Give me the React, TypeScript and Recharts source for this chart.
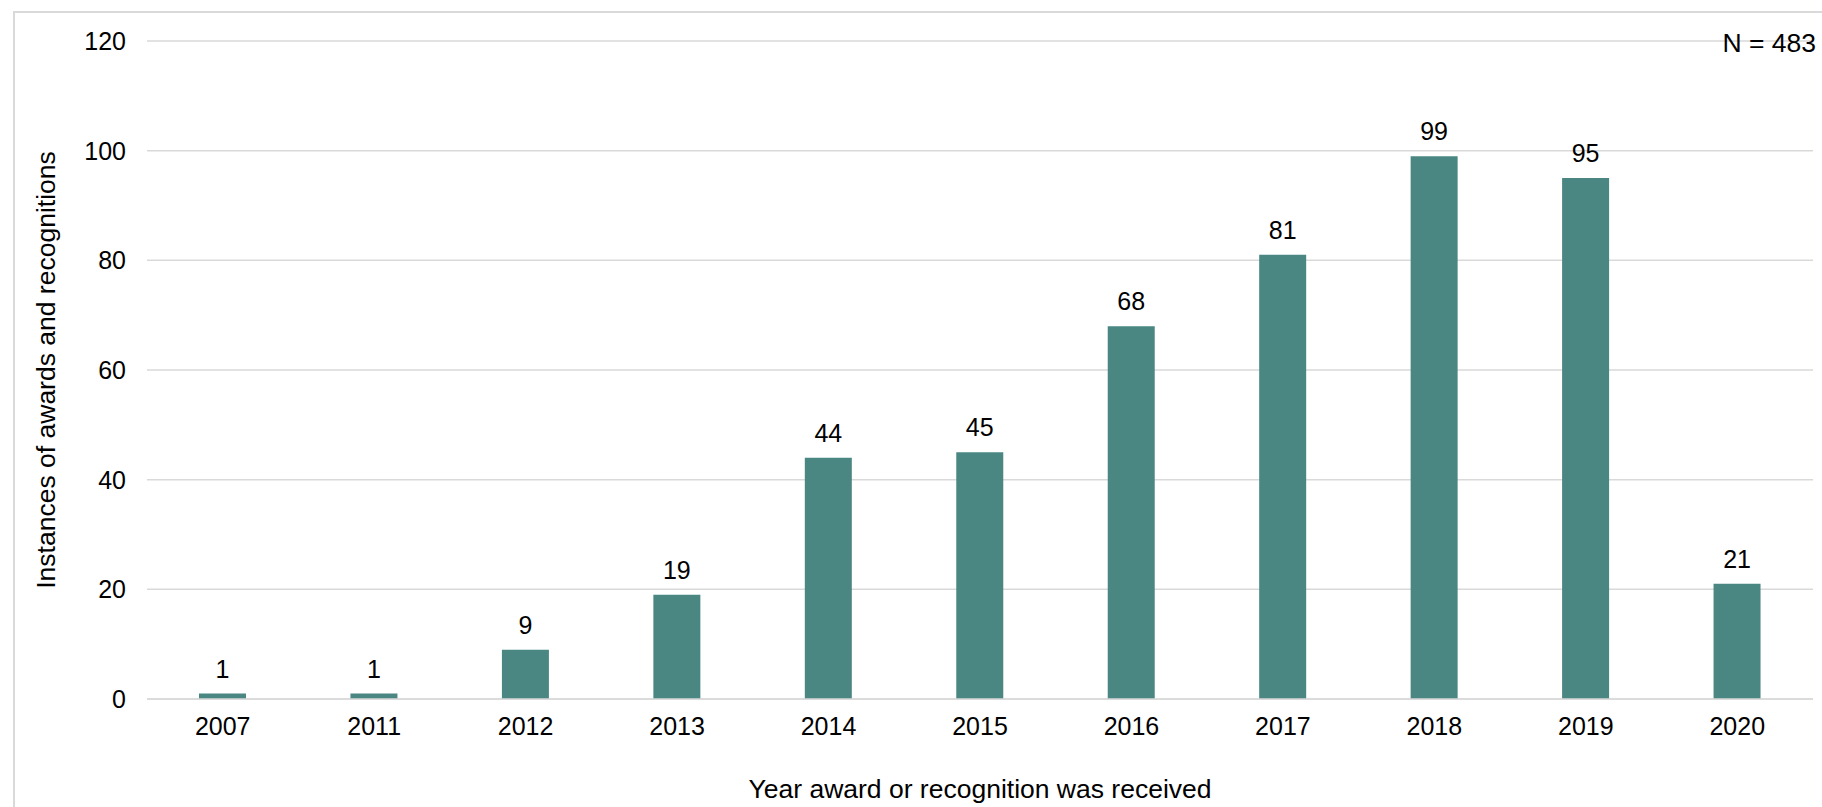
import { Bar, BarChart, CartesianGrid, LabelList, Label, XAxis, YAxis } from 'recharts'

const YEARS = ['2007', '2011', '2012', '2013', '2014', '2015', '2016', '2017', '2018', '2019', '2020']
const COUNTS = [1, 1, 9, 19, 44, 45, 68, 81, 99, 95, 21]
const Y_TICKS = [0, 20, 40, 60, 80, 100, 120]

const FONT = 'Arial, "Liberation Sans", Helvetica, sans-serif'
const BAR_COLOR = '#4A8782'
const GRID = '#d9d9d9'

const data = YEARS.map((year, i) => ({ year, count: COUNTS[i] }))

function YTitle({ viewBox }: any) {
  // viewBox is the y-axis box; the title sits just left of it
  const cx = viewBox.x - 21
  const cy = viewBox.y + viewBox.height / 2
  return (
    <text
      x={cx}
      y={cy}
      transform={`rotate(-90, ${cx}, ${cy})`}
      textAnchor="middle"
      dominantBaseline="central"
      fontSize={26.5}
      fontFamily={FONT}
      fill="#000"
    >
      Instances of awards and recognitions
    </text>
  )
}

export default function App() {
  return (
    <div style={{ position: 'absolute', left: 0, top: 0, width: 1822, height: 807, background: '#fff', overflow: 'hidden' }}>
      <div
        style={{
          position: 'absolute',
          left: 13,
          top: 11,
          width: 1900,
          height: 900,
          borderLeft: `2px solid ${GRID}`,
          borderTop: `2px solid ${GRID}`,
        }}
      />
      <BarChart
        width={1822}
        height={807}
        data={data}
        margin={{ top: 41, right: 9, left: 67, bottom: 0 }}
        style={{ position: 'absolute', left: 0, top: 0 }}
      >
        <CartesianGrid vertical={false} stroke={GRID} strokeWidth={1.5} />
        <XAxis
          dataKey="year"
          height={108}
          axisLine={{ stroke: GRID, strokeWidth: 1.5 }}
          tickLine={false}
          tickMargin={12}
          tick={{ fontSize: 25, fontFamily: FONT, fill: '#000' }}
          interval={0}
        >
          <Label
            value="Year award or recognition was received"
            position="insideBottom"
            offset={9}
            style={{ fontSize: 26.5, fontFamily: FONT, fill: '#000' }}
          />
        </XAxis>
        <YAxis
          width={80}
          domain={[0, 120]}
          ticks={Y_TICKS}
          axisLine={false}
          tickLine={false}
          tickMargin={15}
          tick={{ fontSize: 25, fontFamily: FONT, fill: '#000' }}
        >
          <Label content={YTitle} />
        </YAxis>
        <Bar dataKey="count" fill={BAR_COLOR} barSize={47} isAnimationActive={false}>
          <LabelList
            dataKey="count"
            position="top"
            offset={16}
            style={{ fontSize: 25, fontFamily: FONT, fill: '#000' }}
          />
        </Bar>
      </BarChart>
      <svg width={1822} height={807} style={{ position: 'absolute', left: 0, top: 0, pointerEvents: 'none' }}>
        <text x={1816} y={52} textAnchor="end" fontSize={26.5} fontFamily={FONT} fill="#000">
          N = 483
        </text>
      </svg>
    </div>
  )
}
